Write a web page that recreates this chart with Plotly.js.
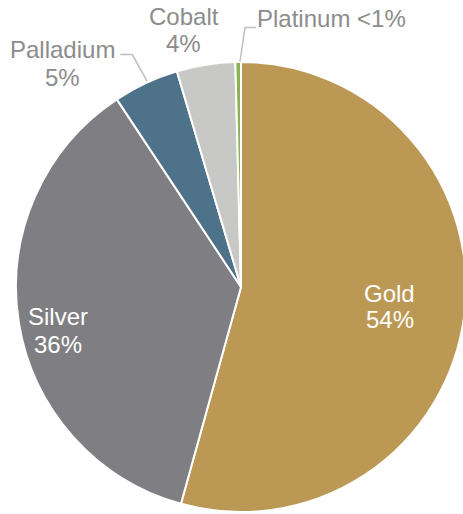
<!DOCTYPE html>
<html>
<head>
<meta charset="utf-8">
<script src="https://cdn.plot.ly/plotly-3.0.1.min.js"></script>
<style>
html,body{margin:0;padding:0;overflow:hidden;background:#fff;width:463px;height:514px;}
#chart{width:480px;height:520px;}
</style>
</head>
<body>
<div id="chart"></div>
<script>
const metals = ["Gold", "Silver", "Palladium", "Cobalt", "Platinum"];
const shares = [54.3, 36.4, 4.7, 4.2, 0.4];
const shareLabels = ["54%", "36%", "5%", "4%", "<1%"];
const sliceColors = ["#BB9955", "#7F7F83", "#4D7289", "#C8C9C7", "#8DB255"];

const W = 480, H = 520, ML = 15.5, MT = 61.5, SIZE = 451;
function px(x){ return (x - ML) / SIZE; }
function py(y){ return 1 - (y - MT) / SIZE; }

const FONT = "Liberation Sans, Arial, sans-serif";
const inColor = "#FFFFFF", outColor = "#8C8C8C";

function ann(text, x, y, color){
  return {text: text, x: px(x), y: py(y), xref: "paper", yref: "paper",
    showarrow: false, xanchor: "center", yanchor: "middle",
    font: {family: FONT, size: 24, color: color}};
}

const annotations = [
  ann(metals[0], 390, 294, inColor), ann(shareLabels[0], 390, 320, inColor),
  ann(metals[1], 58, 317, inColor), ann(shareLabels[1], 57.5, 345, inColor),
  ann(metals[2], 62, 48.5, outColor), ann(shareLabels[2], 62.5, 77, outColor),
  ann(metals[3], 184, 15.5, outColor), ann(shareLabels[3], 183.5, 43, outColor),
  ann(metals[4] + " " + shareLabels[4], 332, 18, outColor)
];

const leader = {color: "#BFBFBF", width: 1.5};
const shapes = [
  {type: "path", xref: "paper", yref: "paper",
   path: `M ${px(120)} ${py(54)} L ${px(132)} ${py(54)} L ${px(147)} ${py(81)}`, line: leader},
  {type: "path", xref: "paper", yref: "paper",
   path: `M ${px(240)} ${py(61)} L ${px(245)} ${py(27)} L ${px(256)} ${py(27)}`, line: leader}
];

const trace = {
  type: "pie",
  labels: metals,
  values: shares,
  sort: false,
  direction: "clockwise",
  rotation: 0,
  marker: {colors: sliceColors, line: {color: "#FFFFFF", width: 2}},
  textinfo: "none",
  hoverinfo: "label+percent",
  showlegend: false
};

Plotly.newPlot("chart", [trace], {
  width: W, height: H,
  margin: {l: ML, r: W - ML - SIZE, t: MT, b: H - MT - SIZE, pad: 0},
  paper_bgcolor: "#FFFFFF",
  showlegend: false,
  annotations: annotations,
  shapes: shapes
}, {displayModeBar: false, staticPlot: true});
</script>
</body>
</html>
